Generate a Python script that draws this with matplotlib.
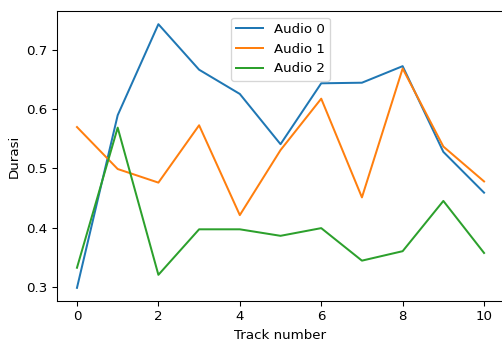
import matplotlib.pyplot as plt

# =========== DATA ==============#
tracks = list(range(11))
audio_0 = [0.298, 0.590, 0.744, 0.667, 0.626, 0.541, 0.644, 0.645, 0.673, 0.528, 0.459]
audio_1 = [0.570, 0.499, 0.476, 0.573, 0.421, 0.531, 0.618, 0.451, 0.669, 0.537, 0.478]
audio_2 = [0.332, 0.569, 0.320, 0.397, 0.397, 0.386, 0.399, 0.344, 0.360, 0.445, 0.357]
labels = ['Audio 0', 'Audio 1', 'Audio 2']

# =========== SETUP ==============#
DPI = 96
fig = plt.figure(figsize=(502 / DPI, 343 / DPI), dpi=DPI)
# right spine sits just past the image edge in the reference
ax = fig.add_axes([0.1128, 0.1224, 0.892, 0.8455])

for series, label in zip([audio_0, audio_1, audio_2], labels):
    ax.plot(tracks, series, label=label)

ax.set_xlabel('Track number')
ax.set_ylabel('Durasi')
ax.legend(loc='upper center')

fig.savefig('out.png', dpi=DPI)
